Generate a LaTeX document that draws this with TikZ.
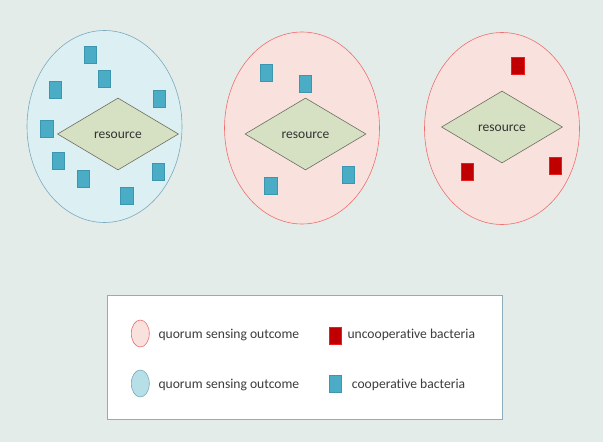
\documentclass[tikz,border=0pt]{standalone}
\usepackage{fontspec}
\setmainfont{Carlito}[RawFeature={-liga;-dlig;-clig}]
\usetikzlibrary{shapes.geometric}
\definecolor{bgc}{RGB}{228,236,233}
\definecolor{blueell}{RGB}{220,239,243}
\definecolor{blueedge}{RGB}{120,170,190}
\definecolor{pinkell}{RGB}{249,226,222}
\definecolor{pinkedge}{RGB}{240,110,110}
\definecolor{diafill}{RGB}{214,224,194}
\definecolor{diaedge}{RGB}{110,110,95}
\definecolor{coopc}{RGB}{75,172,198}
\definecolor{coopedge}{RGB}{60,150,175}
\definecolor{uncoopc}{RGB}{192,0,0}
\definecolor{uncoopedge}{RGB}{235,30,30}
\definecolor{legblue}{RGB}{183,223,232}
\definecolor{legedge}{RGB}{140,175,190}
\definecolor{txtc}{RGB}{60,60,60}
\tikzset{
  colony/.style={ellipse, minimum width=155pt, minimum height=192pt, inner sep=0pt, line width=0.6pt},
  bluecolony/.style={colony, draw=blueedge, fill=blueell},
  pinkcolony/.style={colony, draw=pinkedge, fill=pinkell},
  res/.style={diamond, draw=diaedge, fill=diafill, line width=0.6pt, inner sep=0pt,
    minimum width=121pt, minimum height=72pt},
  restext/.style={font=\fontsize{13.5}{15}\selectfont, text=black!80, inner sep=0pt, yshift=-1.5pt},
  coop/.style={rectangle, draw=coopedge, fill=coopc, line width=0.5pt, minimum width=12.5pt, minimum height=17pt, inner sep=0pt},
  uncoop/.style={rectangle, draw=uncoopedge, fill=uncoopc, line width=0.5pt, minimum width=12.5pt, minimum height=17pt, inner sep=0pt},
  legtext/.style={anchor=west, font=\fontsize{13.6}{15}\selectfont, text=txtc, inner sep=0pt},
  legell/.style={ellipse, minimum width=18pt, minimum height=27pt, inner sep=0pt, line width=0.6pt}
}
\begin{document}
\begin{tikzpicture}[x=1pt,y=-1pt]
\fill[bgc] (0,0) rectangle (603,442);
\useasboundingbox (0,0) rectangle (603,442);
% colony 1
\node[bluecolony] (c1) at (104.5,126.5) {};
\node[res] (r1) at (118,134) {};
\node[restext] (r1t) at (r1.center) {resource};
\foreach \n/\x/\y in {a/90.3/55, b/104/78.3, c/55/90, d/159.3/98.3, e/46.7/128.3, f/58.3/161, g/83.3/179, h/158.3/171.7, i/126.7/195.7}
  \node[coop] (c1\n) at (\x,\y) {};
% colony 2
\node[pinkcolony] (c2) at (302,128) {};
\node[res] (r2) at (305.5,134) {};
\node[restext] (r2t) at (r2.center) {resource};
\foreach \n/\x/\y in {a/266.3/73, b/305.3/83.7, c/270.7/185.3, d/348.3/174.3}
  \node[coop] (c2\n) at (\x,\y) {};
% colony 3
\node[pinkcolony] (c3) at (502,128.5) {};
\node[res] (r3) at (502,127) {};
\node[restext] (r3t) at (r3.center) {resource};
\foreach \n/\x/\y in {a/517.7/65.7, b/467/172, c/555/165.3}
  \node[uncoop] (c3\n) at (\x,\y) {};
% legend
\node[draw=legedge, fill=white, line width=0.8pt, minimum width=395pt, minimum height=124pt, inner sep=0pt] (leg) at (305,357) {};
\node[legell, draw=pinkedge, fill=pinkell] (l1) at (140.3,333.5) {};
\node[legtext] (t1) at (158.3,335) {quorum sensing outcome};
\node[legell, draw=blueedge, fill=legblue] (l2) at (140.3,383.5) {};
\node[legtext] (t2) at (158.3,385) {quorum sensing outcome};
\node[uncoop] (l3) at (335,335.5) {};
\node[legtext] (t3) at (347.3,335) {uncooperative bacteria};
\node[coop] (l4) at (335,383.5) {};
\node[legtext] (t4) at (351.7,385) {cooperative bacteria};
\end{tikzpicture}
\end{document}
